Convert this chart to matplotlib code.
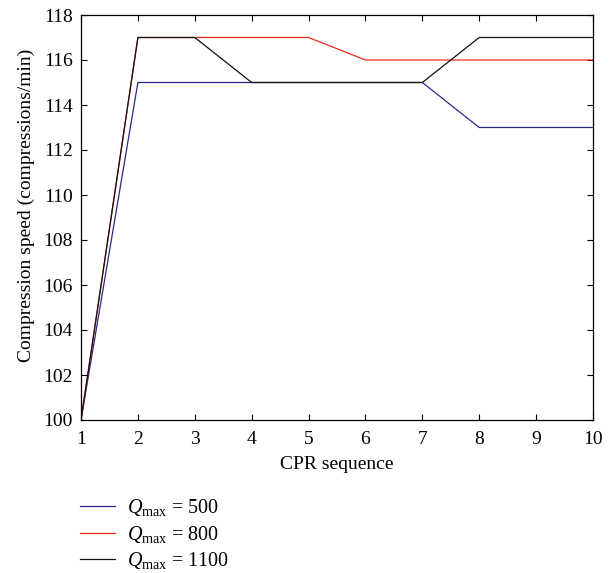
import numpy as np
import matplotlib
matplotlib.use("Agg")
import matplotlib.pyplot as plt

# CPR sequence vs compression speed for three Q_max settings
seq = [1, 2, 3, 4, 5, 6, 7, 8, 9, 10]
q500 = [100, 115, 115, 115, 115, 115, 115, 113, 113, 113]
q800 = [100, 117, 117, 117, 117, 116, 116, 116, 116, 116]
q1100 = [100, 117, 117, 115, 115, 115, 115, 117, 117, 117]
labels = ["500", "800", "1100"]
colors = ["#2b2888", "#ec2d1a", "#111111"]

plt.rcParams["font.family"] = ["Liberation Serif", "DejaVu Serif"]
plt.rcParams["mathtext.fontset"] = "custom"
plt.rcParams["mathtext.rm"] = "Liberation Serif"
plt.rcParams["mathtext.it"] = "Liberation Serif:italic"
plt.rcParams["font.size"] = 14

fig = plt.figure(figsize=(6.14, 5.73), dpi=100)
ax = fig.add_axes([81/614, 1 - 420/573, (593 - 81)/614, (420 - 15)/573])

handles = []
for ys, lab, c in zip([q500, q800, q1100], labels, colors):
    h, = ax.plot(seq, ys, color=c, lw=0.9, label=r"$Q_{\mathrm{max}}$ = " + lab)
    handles.append(h)

ax.set_xlim(1, 10)
ax.set_ylim(100, 118)
ax.set_xticks(seq)
ax.set_yticks(np.arange(100, 119, 2))
ax.tick_params(direction="in", top=True, right=True, length=4, width=0.8, pad=6)
ax.tick_params(axis="x", pad=8)
for sp in ax.spines.values():
    sp.set_linewidth(0.9)
ax.set_xlabel("CPR sequence", labelpad=6)
ax.set_ylabel("Compression speed (compressions/min)")
ax.yaxis.set_label_coords(-0.09, 0.53)

fig.legend(handles=handles, loc="upper left", bbox_to_anchor=(72/614, 1 - 489/573),
           frameon=False, handlelength=1.75, handletextpad=0.6, labelspacing=0.28,
           borderaxespad=0, fontsize=14.5)

fig.savefig("out.png", dpi=100)
